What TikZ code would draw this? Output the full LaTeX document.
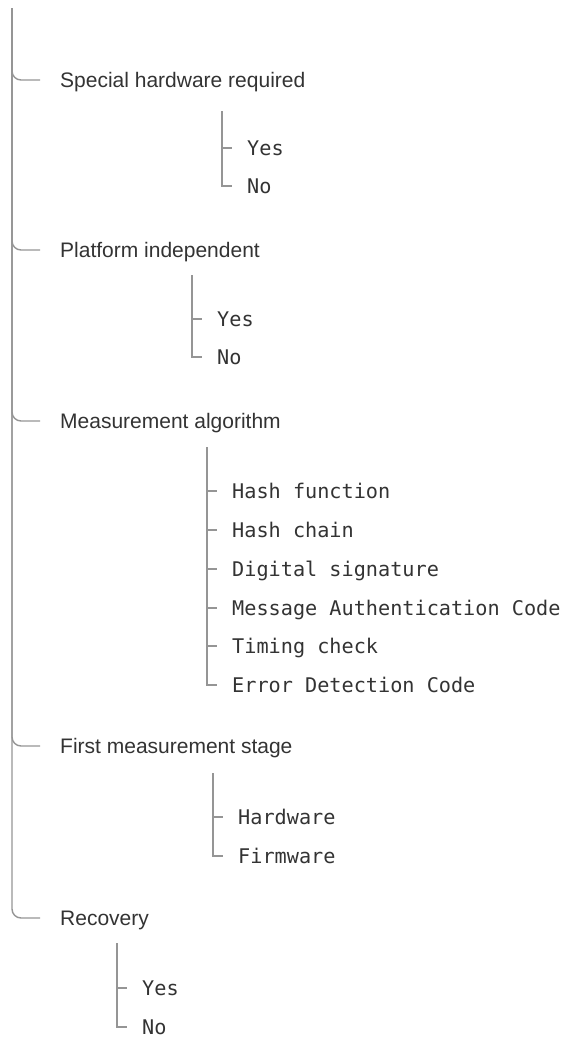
\documentclass[tikz,border=0pt]{standalone}
\usepackage{fontspec}
\setmainfont{Liberation Sans}
\newfontfamily\monofont{DejaVu Sans Mono}
\definecolor{ink}{HTML}{333333}
\definecolor{wire}{HTML}{959595}
\begin{document}
\begin{tikzpicture}[x=1pt,y=-1pt,
  heading/.style={anchor=west,inner xsep=20pt,inner ysep=0pt,text height=14pt,text depth=0pt,
    text=ink,font=\fontsize{21pt}{24pt}\selectfont},
  leaf/.style={anchor=west,inner xsep=15pt,inner ysep=0pt,text height=14pt,text depth=0pt,
    text=ink,font=\monofont\fontsize{20.2pt}{24pt}\selectfont},
  trunk/.style={draw=wire,line width=1.4pt,rounded corners=9pt},
  twig/.style={draw=wire,line width=1.3pt}]
\useasboundingbox (0,0) rectangle (564,1037);

% root line
\coordinate (root) at (12,8);

% first-level headings
\node[heading] (hw)  at (40,80)  {Special hardware required};
\node[heading] (pi)  at (40,250) {Platform independent};
\node[heading] (ma)  at (40,421) {Measurement algorithm};
\node[heading] (fms) at (40,746) {First measurement stage};
\node[heading] (rec) at (40,918) {Recovery};

\foreach \h in {hw,pi,ma,fms,rec}
  \draw[trunk] (root) |- (\h.west);

% Special hardware required
\coordinate (hwtop) at (222,111);
\node[leaf] (hwy) at (232,148) {Yes};
\node[leaf] (hwn) at (232,186) {No};
\foreach \l in {hwy,hwn} \draw[twig] (hwtop) |- (\l.west);

% Platform independent
\coordinate (pitop) at (192,275);
\node[leaf] (piy) at (202,319) {Yes};
\node[leaf] (pin) at (202,357) {No};
\foreach \l in {piy,pin} \draw[twig] (pitop) |- (\l.west);

% Measurement algorithm
\coordinate (matop) at (207,447);
\node[leaf] (ma1) at (217,491) {Hash function};
\node[leaf] (ma2) at (217,530) {Hash chain};
\node[leaf] (ma3) at (217,569) {Digital signature};
\node[leaf] (ma4) at (217,608) {Message Authentication Code};
\node[leaf] (ma5) at (217,646) {Timing check};
\node[leaf] (ma6) at (217,685) {Error Detection Code};
\foreach \l in {ma1,ma2,ma3,ma4,ma5,ma6} \draw[twig] (matop) |- (\l.west);

% First measurement stage
\coordinate (fmstop) at (213,773);
\node[leaf] (fms1) at (223,817) {Hardware};
\node[leaf] (fms2) at (223,856) {Firmware};
\foreach \l in {fms1,fms2} \draw[twig] (fmstop) |- (\l.west);

% Recovery
\coordinate (rectop) at (117,943);
\node[leaf] (recy) at (127,988) {Yes};
\node[leaf] (recn) at (127,1027) {No};
\foreach \l in {recy,recn} \draw[twig] (rectop) |- (\l.west);
\end{tikzpicture}
\end{document}
